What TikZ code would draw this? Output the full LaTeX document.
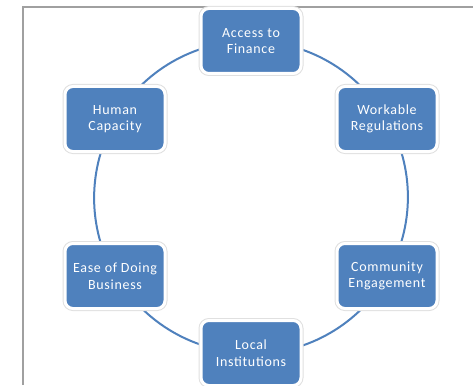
\documentclass[tikz,border=0pt]{standalone}
\usepackage{fontspec}
\setmainfont{Carlito}[LetterSpace=5]
\usetikzlibrary{backgrounds}
\definecolor{boxblue}{HTML}{4F81BD}
\definecolor{framegray}{HTML}{A0A0A0}
\begin{document}
\begin{tikzpicture}[x=1pt,y=-1pt,
  cyclebox/.style={rectangle, rounded corners=8pt, fill=boxblue, draw=white, line width=3pt,
    preaction={draw=black!12, line width=5pt},
    minimum width=100pt, minimum height=65pt, inner sep=0pt, align=center,
    text=white, font=\fontsize{14}{16.5}\selectfont},
  cyclelink/.style={draw=boxblue, line width=2pt}]
\useasboundingbox (0,0) rectangle (473,385);
\node[cyclebox] (af) at (251,41) {Access to\\Finance};
\node[cyclebox] (wr) at (387,119) {Workable\\Regulations};
\node[cyclebox] (ce) at (387,276) {Community\\Engagement};
\node[cyclebox] (li) at (251,353) {Local\\Institutions};
\node[cyclebox] (ed) at (115,276) {Ease of Doing\\Business};
\node[cyclebox] (hc) at (115,119) {Human\\Capacity};
\begin{scope}[on background layer]
\fill[white] (0,0) rectangle (473,385);
\draw[framegray, line width=2pt] (22.5,385) -- (22.5,7.5) -- (473,7.5);
\draw[cyclelink] (af.center) arc[start angle=-90, end angle=-30, radius=156];
\draw[cyclelink] (wr.center) arc[start angle=-30, end angle=30, radius=156];
\draw[cyclelink] (ce.center) arc[start angle=30, end angle=90, radius=156];
\draw[cyclelink] (li.center) arc[start angle=90, end angle=150, radius=156];
\draw[cyclelink] (ed.center) arc[start angle=150, end angle=210, radius=156];
\draw[cyclelink] (hc.center) arc[start angle=-150, end angle=-90, radius=156];
\end{scope}
\end{tikzpicture}
\end{document}
